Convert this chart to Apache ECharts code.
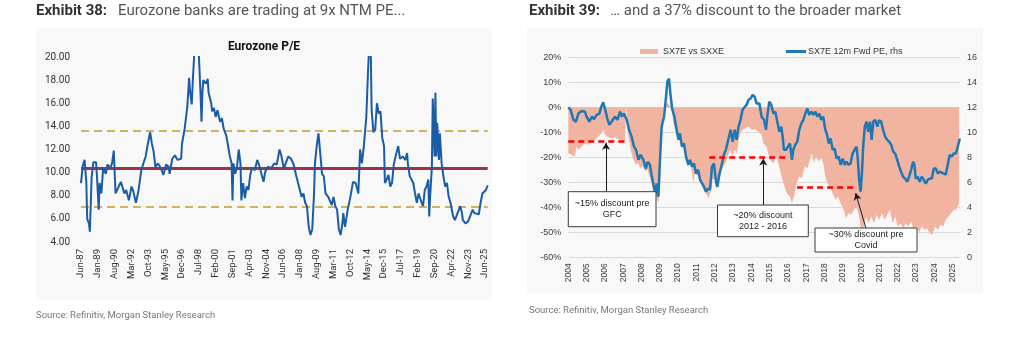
<!DOCTYPE html>
<html><head><meta charset="utf-8">
<script src="https://cdn.jsdelivr.net/npm/echarts/dist/echarts.min.js"></script>
<style>html,body{margin:0;padding:0;background:#fff}#c{width:1014px;height:338px}</style>
</head><body><div id="c"></div>
<script>
// ---------- Exhibit 38: Eurozone P/E ----------
const peTickLabels = ['Jun-87','Jan-89','Aug-90','Mar-92','Oct-93','May-95','Dec-96','Jul-98','Feb-00','Sep-01','Apr-03','Nov-04','Jun-06','Jan-08','Aug-09','Mar-11','Oct-12','May-14','Dec-15','Jul-17','Feb-19','Sep-20','Apr-22','Nov-23','Jun-25'];
// [months since Jun-87, P/E]
const peData = [
[0,9.1],[2,10.6],[4,11.1],[6,9.2],[7,6.0],[9,5.6],[10,4.9],[12,9.6],[14,10.9],[17,10.9],[18,9.7],[20,6.8],[21,9.1],[23,8.2],[25,10.4],[28,9.9],[30,10.7],[33,10.4],[35,10.8],[37,11.9],[39,8.2],[41,8.2],[45,9.2],[49,8.2],[51,8.5],[54,7.6],[57,8.8],[59,8.4],[62,7.4],[65,8.5],[68,10.2],[70,10.7],[73,11.4],[75,12.3],[78,13.5],[80,12.5],[82,11.8],[84,10.5],[87,10.8],[90,10.4],[93,9.8],[96,10.7],[99,10.5],[100,9.9],[103,11.2],[106,11.5],[109,11.1],[113,11.2],[114,12.5],[117,13.8],[118,13.9],[120,15.7],[122,18.2],[123,17.1],[125,15.9],[126,17.7],[128,20.5],[130,21.5],[133,20.2],[135,16.6],[136,14.4],[137,16.9],[138,18.0],[141,17.7],[143,18.1],[144,16.9],[147,16.0],[148,15.3],[150,15.6],[152,14.8],[154,15.4],[157,14.4],[159,14.7],[161,13.8],[163,13.4],[164,13.2],[166,12.3],[168,11.4],[170,10.8],[171,7.6],[172,10.8],[174,9.9],[176,10.4],[178,12.0],[180,10.8],[181,7.6],[183,9.1],[185,7.8],[187,8.8],[189,8.5],[191,9.8],[193,10.4],[196,10.2],[199,11.1],[202,10.4],[204,9.8],[206,9.2],[208,10.1],[211,10.5],[215,10.4],[218,10.8],[221,10.7],[224,12.0],[226,11.5],[229,10.3],[231,10.8],[234,11.4],[237,11.2],[240,10.7],[243,9.7],[245,9.1],[247,8.5],[249,7.9],[251,8.2],[253,7.4],[255,7.1],[257,5.3],[259,4.6],[261,5.1],[263,8.2],[264,10.8],[266,12.3],[268,13.4],[270,11.7],[272,9.9],[274,9.7],[276,8.2],[279,7.9],[281,7.9],[283,7.2],[285,7.9],[287,7.1],[289,6.8],[291,5.1],[293,4.6],[295,5.6],[296,6.5],[298,5.3],[301,6.8],[304,7.9],[307,9.2],[310,9.1],[313,8.2],[315,12.0],[317,10.8],[319,12.1],[321,12.0],[322,14.8],[324,18.9],[325,20.5],[326,21.5],[327,20.5],[328,15.4],[330,13.5],[332,13.7],[334,16.0],[336,15.1],[338,15.3],[340,13.0],[342,12.3],[343,9.1],[345,9.4],[347,9.8],[349,8.8],[351,9.1],[353,10.7],[355,11.4],[358,12.3],[360,11.2],[363,11.4],[366,11.1],[368,11.7],[369,10.7],[371,9.7],[373,9.4],[375,9.1],[377,8.2],[379,7.4],[381,8.2],[384,7.5],[386,7.1],[388,8.5],[390,8.8],[392,9.4],[393,6.2],[394,7.9],[396,10.5],[397,16.4],[399,11.4],[400,16.9],[401,11.4],[402,14.3],[404,11.1],[405,13.4],[407,10.8],[409,9.7],[411,8.8],[413,9.1],[415,7.9],[417,7.4],[420,6.2],[422,5.9],[425,6.5],[428,7.1],[430,6.5],[431,5.9],[434,5.6],[437,5.8],[439,6.2],[442,6.8],[444,6.5],[446,6.5],[449,6.4],[451,7.4],[453,8.2],[455,8.1],[457,8.5],[459,8.9]
];
const peMean = 10.34, peUpper = 13.63, peLower = 7.03;

// ---------- Exhibit 39 ----------
// [year, SX7E vs SXXE relative %]
const relDiscount = [
[2004.0,-18.4],[2004.17,-19.1],[2004.35,-19.7],[2004.45,-15.7],[2004.55,-17],[2004.73,-15.7],[2004.91,-14.4],[2005.09,-15],[2005.28,-13.7],[2005.46,-13],[2005.64,-11.7],[2005.82,-10.4],[2005.91,-9],[2006.0,-11],[2006.19,-12],[2006.37,-12.4],[2006.55,-12],[2006.73,-12.8],[2006.91,-13],[2007.1,-14.4],[2007.15,2.0],[2007.22,-8],[2007.28,-11.7],[2007.41,-17],[2007.55,-21],[2007.7,-23],[2007.83,-22.4],[2007.92,-24.4],[2008.06,-23.7],[2008.19,-25.7],[2008.32,-25],[2008.43,-27.7],[2008.55,-30.4],[2008.68,-34.4],[2008.83,-36.4],[2008.92,-38.4],[2009.01,-33],[2009.1,-9],[2009.19,-1],[2009.28,1],[2009.4,2],[2009.5,1],[2009.6,0],[2009.65,-1],[2009.74,-6.4],[2009.83,-9],[2009.96,-11.7],[2010.1,-13.7],[2010.25,-15.7],[2010.37,-17],[2010.5,-22.4],[2010.61,-21],[2010.74,-25],[2010.83,-30.4],[2010.92,-26.4],[2011.0,-25.7],[2011.16,-27.7],[2011.28,-29.7],[2011.41,-33],[2011.56,-35],[2011.67,-36.4],[2011.78,-33.7],[2011.89,-29],[2012.0,-28.4],[2012.1,-33],[2012.21,-30.4],[2012.32,-26.4],[2012.43,-23.7],[2012.54,-23],[2012.65,-21],[2012.76,-18.4],[2012.87,-17],[2012.98,-19.7],[2013.09,-17],[2013.2,-18.4],[2013.3,-13],[2013.41,-10.4],[2013.52,-9],[2013.67,-8.4],[2013.83,-7.7],[2014.02,-9],[2014.2,-8.8],[2014.38,-9.7],[2014.56,-11],[2014.65,-14.4],[2014.83,-15.7],[2015.01,-21],[2015.2,-22.4],[2015.38,-19.7],[2015.56,-25],[2015.75,-30.4],[2015.93,-34.4],[2016.11,-35.7],[2016.22,-38.4],[2016.33,-35.7],[2016.47,-30.4],[2016.62,-27.7],[2016.76,-28.4],[2016.91,-23.7],[2017.06,-24.4],[2017.2,-21],[2017.31,-18.4],[2017.42,-22.4],[2017.53,-19.7],[2017.68,-21.7],[2017.82,-20.4],[2017.93,-22.4],[2018.04,-27.7],[2018.15,-30.4],[2018.3,-31.7],[2018.44,-34.4],[2018.59,-37],[2018.73,-35.7],[2018.88,-38.4],[2019.02,-40.4],[2019.17,-44.4],[2019.31,-42.4],[2019.46,-43],[2019.6,-41],[2019.75,-39.7],[2019.89,-43.7],[2020.0,-49],[2020.11,-48.4],[2020.26,-43.7],[2020.4,-46.4],[2020.55,-43.7],[2020.7,-46.4],[2020.84,-43],[2020.99,-45],[2021.13,-42.4],[2021.28,-45],[2021.42,-43],[2021.57,-41],[2021.71,-46.4],[2021.86,-43.7],[2022.0,-47.7],[2022.15,-46.4],[2022.29,-48.4],[2022.44,-46.4],[2022.58,-47.7],[2022.73,-45.7],[2022.88,-49],[2023.02,-47.7],[2023.17,-50.1],[2023.31,-47.7],[2023.46,-49],[2023.6,-48.4],[2023.75,-50.4],[2023.9,-51],[2024.04,-47.7],[2024.19,-49],[2024.33,-47],[2024.48,-47.7],[2024.62,-45],[2024.77,-43.7],[2024.91,-42.4],[2025.06,-41],[2025.2,-41],[2025.35,-38.4]
];
// [year, SX7E 12m forward P/E]
const fwdPe = [
[2004.0,12.0],[2004.13,11.8],[2004.28,11.0],[2004.42,10.85],[2004.55,11.5],[2004.73,11.7],[2004.91,11.65],[2005.0,11.25],[2005.15,10.85],[2005.28,11.25],[2005.4,11.05],[2005.55,11.4],[2005.7,11.5],[2005.8,12.05],[2005.91,12.4],[2006.02,11.8],[2006.13,11.1],[2006.24,10.6],[2006.39,10.9],[2006.55,11.25],[2006.68,11.0],[2006.83,11.65],[2006.93,11.25],[2007.04,11.5],[2007.19,11.0],[2007.32,10.2],[2007.46,9.65],[2007.59,8.85],[2007.7,8.6],[2007.83,7.8],[2007.95,8.2],[2008.1,7.8],[2008.24,7.1],[2008.33,7.65],[2008.46,7.4],[2008.55,6.6],[2008.65,5.8],[2008.75,5.1],[2008.83,5.9],[2008.92,4.85],[2009.01,7.8],[2009.1,10.45],[2009.23,11.25],[2009.34,12.85],[2009.41,14.05],[2009.5,14.3],[2009.58,13.1],[2009.67,11.9],[2009.8,11.25],[2009.92,10.2],[2010.02,9.4],[2010.1,9.9],[2010.21,8.85],[2010.32,9.1],[2010.43,8.05],[2010.56,7.4],[2010.65,7.8],[2010.76,7.25],[2010.87,7.5],[2010.98,6.7],[2011.09,7.0],[2011.2,6.2],[2011.3,6.3],[2011.41,5.65],[2011.52,5.25],[2011.63,5.5],[2011.74,5.4],[2011.85,7.25],[2011.96,7.5],[2012.07,6.05],[2012.14,5.65],[2012.25,6.6],[2012.4,7.5],[2012.5,8.2],[2012.61,8.6],[2012.74,9.4],[2012.87,10.2],[2012.98,9.25],[2013.09,10.2],[2013.2,9.4],[2013.3,10.45],[2013.41,11.0],[2013.52,11.8],[2013.63,12.0],[2013.74,12.2],[2013.85,12.6],[2013.96,12.7],[2014.07,13.0],[2014.18,12.85],[2014.29,12.3],[2014.44,12.3],[2014.56,11.25],[2014.69,11.0],[2014.8,10.2],[2014.87,11.25],[2014.98,12.45],[2015.09,12.2],[2015.2,11.5],[2015.31,11.65],[2015.42,10.85],[2015.53,10.05],[2015.64,10.45],[2015.71,9.65],[2015.78,8.6],[2015.89,8.6],[2016.0,8.85],[2016.11,9.1],[2016.22,7.8],[2016.29,8.6],[2016.4,9.0],[2016.51,9.25],[2016.62,10.2],[2016.73,10.7],[2016.84,11.0],[2016.95,11.5],[2017.06,11.9],[2017.17,11.4],[2017.28,11.65],[2017.39,11.4],[2017.5,11.65],[2017.61,11.25],[2017.71,11.5],[2017.82,11.0],[2017.93,11.25],[2018.04,10.2],[2018.12,9.9],[2018.23,9.1],[2018.33,9.5],[2018.44,8.6],[2018.55,8.7],[2018.66,7.9],[2018.77,8.05],[2018.88,7.4],[2018.99,7.9],[2019.1,7.4],[2019.2,7.65],[2019.31,7.4],[2019.42,7.5],[2019.53,8.3],[2019.64,8.6],[2019.75,8.85],[2019.82,7.8],[2019.89,6.2],[2019.97,5.25],[2020.04,6.7],[2020.11,8.85],[2020.2,10.45],[2020.29,10.85],[2020.38,10.05],[2020.48,10.85],[2020.57,9.4],[2020.66,10.85],[2020.77,11.0],[2020.88,10.45],[2020.98,10.95],[2021.09,10.85],[2021.2,10.2],[2021.31,9.65],[2021.42,9.4],[2021.53,9.25],[2021.64,9.0],[2021.75,8.45],[2021.86,8.3],[2021.97,7.8],[2022.08,7.25],[2022.18,6.85],[2022.29,6.45],[2022.4,6.3],[2022.51,6.05],[2022.62,6.45],[2022.73,7.0],[2022.84,7.65],[2022.91,7.4],[2022.98,6.3],[2023.09,6.45],[2023.2,6.05],[2023.31,6.45],[2023.42,6.2],[2023.53,5.9],[2023.64,6.2],[2023.75,6.3],[2023.86,6.3],[2023.97,7.1],[2024.08,7.1],[2024.19,6.7],[2024.3,6.85],[2024.4,6.7],[2024.51,6.7],[2024.62,6.6],[2024.73,7.4],[2024.84,8.2],[2024.95,8.05],[2025.06,8.3],[2025.17,8.3],[2025.28,8.85],[2025.39,9.5]
];
// discount annotation lines [fromYear, toYear, level %]
const discountLevels = [[2004.0,2007.1,-13.4],[2011.7,2015.85,-19.8],[2016.5,2019.75,-31.8]];
// annotation arrows [[x0,y0],[x1,y1]] in (year, %)
const arrowLines = [[[2006.06,-33.8],[2006.06,-14.2]],[[2014.65,-39.1],[2014.65,-20.5]],[[2020.26,-48.4],[2019.70,-34.3]]];

const chart = echarts.init(document.getElementById('c'), null, {renderer:'canvas'});
const noAxis = {axisLine:{show:false}, axisTick:{show:false}, splitLine:{show:false}};
const rFont = 'Liberation Sans';

const markLineData = [];
discountLevels.forEach(d => markLineData.push([
  {coord:[d[0], d[2]], symbol:'none', lineStyle:{color:'#ff0000', width:2.5, type:[6,4]}},
  {coord:[d[1], d[2]], symbol:'none'}
]));
arrowLines.forEach(a => markLineData.push([
  {coord:a[0], symbol:'none', lineStyle:{color:'#1a1a1a', width:1, type:'solid'}},
  {coord:a[1], symbol:'arrow', symbolSize:[6,7]}
]));

function box(x, y, w, h, text) {
  return {type:'group', z:100, children:[
    {type:'rect', z:100, shape:{x:x, y:y, width:w, height:h}, style:{fill:'#fff', stroke:'#3a3a3a', lineWidth:1}},
    {type:'text', z:101, style:{text:text, x:x + w/2, y:y + h/2, textAlign:'center', textVerticalAlign:'middle',
      font:'9px "Liberation Sans"', fill:'#222', lineHeight:10.5}}
  ]};
}

const option = {
  animation:false,
  textStyle:{fontFamily:'Roboto'},
  grid:[{left:81, top:57, width:406.7, height:185}, {left:568.3, top:57.3, width:391.7, height:200}],
  xAxis:[
    Object.assign({gridIndex:0, type:'value', min:0, max:459, interval:19,
      axisLabel:{rotate:90, margin:7, fontSize:9.5, color:'#333', fontFamily:'Roboto',
        formatter:v => { const i = Math.round(v/19); return (Math.abs(v - i*19) < 1e-6 && peTickLabels[i]) ? peTickLabels[i] : ''; }}}, noAxis),
    Object.assign({gridIndex:1, type:'value', min:2004, max:2025.4, interval:1,
      axisLabel:{rotate:90, margin:6, fontSize:8.5, color:'#404040', fontFamily:rFont,
        formatter:v => Math.abs(v - Math.round(v)) < 1e-6 ? String(Math.round(v)) : ''}}, noAxis)
  ],
  yAxis:[
    Object.assign({gridIndex:0, type:'value', min:4, max:20, interval:2,
      axisLabel:{margin:11, fontSize:10, color:'#333', fontFamily:'Roboto', formatter:v => v.toFixed(2)}}, noAxis),
    {gridIndex:1, type:'value', min:-60, max:20, interval:10, position:'left',
      axisLine:{show:false}, axisTick:{show:false},
      splitLine:{show:true, lineStyle:{color:'#d9d9d9', width:1}},
      axisLabel:{margin:7, fontSize:9, color:'#404040', fontFamily:rFont, formatter:'{value}%'}},
    Object.assign({gridIndex:1, type:'value', min:0, max:16, interval:2, position:'right',
      axisLabel:{margin:7, fontSize:9, color:'#404040', fontFamily:rFont}}, noAxis)
  ],
  legend:[
    {data:['SX7E vs SXXE'], left:635, top:42, icon:'rect', itemWidth:18, itemHeight:5, selectedMode:false,
      textStyle:{fontSize:9, color:'#333', fontFamily:rFont}},
    {data:['SX7E 12m Fwd PE, rhs'], left:781, top:42, icon:'rect', itemWidth:20, itemHeight:3, selectedMode:false,
      textStyle:{fontSize:9, color:'#333', fontFamily:rFont, padding:[0,0,0,-3]}}
  ],
  series:[
    {name:'Eurozone P/E', type:'line', xAxisIndex:0, yAxisIndex:0, data:peData, showSymbol:false, clip:true,
      lineStyle:{color:'#1a5ca6', width:2}, itemStyle:{color:'#1a5ca6'}, z:3,
      markLine:{silent:true, symbol:'none', label:{show:false}, z:2,
        data:[
          {yAxis:peUpper, lineStyle:{color:'#d4b15f', width:2, type:[8,5]}},
          {yAxis:peMean, lineStyle:{color:'#9b3448', width:3, type:'solid'}},
          {yAxis:peLower, lineStyle:{color:'#d4b15f', width:2, type:[8,5]}}
        ]}},
    {name:'SX7E vs SXXE', type:'line', xAxisIndex:1, yAxisIndex:1, data:relDiscount, showSymbol:false,
      color:'#f0b4a0', lineStyle:{width:0, color:'#f0b4a0'}, itemStyle:{color:'#f0b4a0'},
      areaStyle:{color:'#f0b4a0', opacity:1}, z:2,
      markLine:{silent:true, label:{show:false}, z:6, data:markLineData}},
    {name:'SX7E 12m Fwd PE, rhs', type:'line', xAxisIndex:1, yAxisIndex:2, data:fwdPe, showSymbol:false,
      lineStyle:{color:'#1f77b4', width:2.5}, itemStyle:{color:'#1f77b4'}, z:4}
  ],
  graphic:[
    {type:'rect', z:-10, silent:true, shape:{x:36, y:28, width:456, height:272}, style:{fill:'#f8f8f8'}},
    {type:'rect', z:-10, silent:true, shape:{x:527, y:28, width:456, height:265}, style:{fill:'#f8f8f8'}},
    {type:'text', style:{text:'Exhibit 38:', x:36, y:11, textVerticalAlign:'middle', font:'bold 15px Roboto', fill:'#333'}},
    {type:'text', style:{text:'Eurozone banks are trading at 9x NTM PE...', x:118, y:11, textVerticalAlign:'middle', font:'15px Roboto', fill:'#555'}},
    {type:'text', style:{text:'Exhibit 39:', x:529, y:11, textVerticalAlign:'middle', font:'bold 15px Roboto', fill:'#333'}},
    {type:'text', style:{text:'\u2026 and a 37% discount to the broader market', x:610, y:11, textVerticalAlign:'middle', font:'15px Roboto', fill:'#555'}},
    {type:'text', style:{text:'Eurozone P/E', x:264, y:47, textAlign:'center', textVerticalAlign:'middle', font:'bold 12px Roboto', fill:'#111'}},
    {type:'text', style:{text:'Source: Refinitiv, Morgan Stanley Research', x:36, y:316, textVerticalAlign:'middle', font:'9.5px Roboto', fill:'#777'}},
    {type:'text', style:{text:'Source: Refinitiv, Morgan Stanley Research', x:529, y:311, textVerticalAlign:'middle', font:'9.5px Roboto', fill:'#777'}},
    box(568.3, 191.7, 87.7, 35, '~15% discount pre\nGFC'),
    box(717.5, 205, 90.8, 31.7, '~20% discount\n2012 - 2016'),
    box(815, 228, 102, 24, '~30% discount pre\nCovid')
  ]
};
chart.setOption(option);
</script></body></html>
